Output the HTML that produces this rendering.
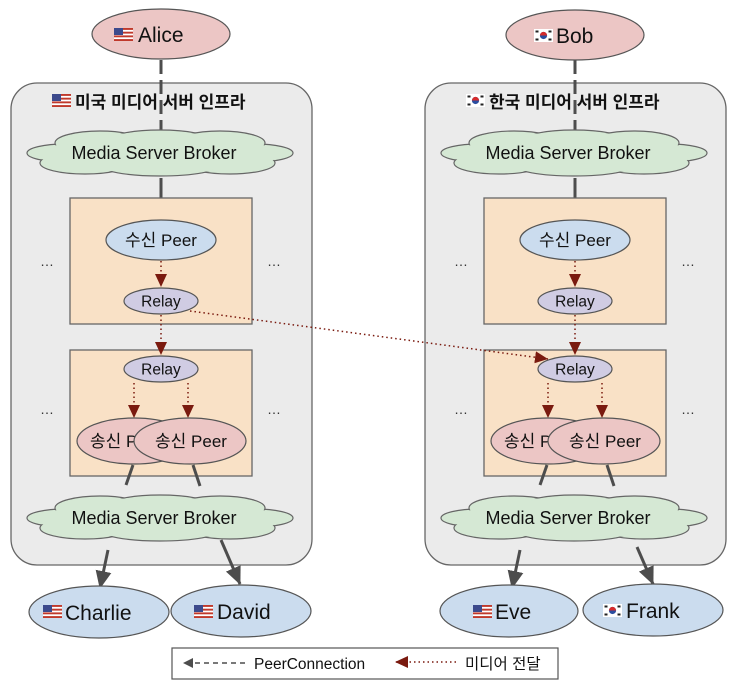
<!DOCTYPE html>
<html><head><meta charset="utf-8"><style>
html,body{margin:0;padding:0;background:#fff;}
svg{display:block;font-family:"Liberation Sans","Noto Sans CJK KR",sans-serif;}
</style></head><body>
<svg width="735" height="683" viewBox="0 0 735 683" xmlns="http://www.w3.org/2000/svg">
<defs>
<marker id="ga" markerWidth="10" markerHeight="10" refX="9" refY="5" orient="auto" markerUnits="userSpaceOnUse"><path d="M0,0 L10,5 L0,10 Z" fill="#4d4d4d"/></marker>
<marker id="ga2" markerWidth="18" markerHeight="16" refX="17" refY="8" orient="auto" markerUnits="userSpaceOnUse"><path d="M0,0 L18,8 L0,16 Z" fill="#4d4d4d"/></marker>
<marker id="ra" markerWidth="14" markerHeight="14" refX="13" refY="6" orient="auto" markerUnits="userSpaceOnUse"><path d="M0,0 L13,6 L0,12 Z" fill="#7a1a0f"/></marker>
<g id="us">
<rect x="0" y="0" width="19" height="13" fill="#fff"/>
<rect x="0" y="0" width="19" height="1.9" fill="#c0392b"/><rect x="0" y="3.7" width="19" height="1.9" fill="#c0392b"/><rect x="0" y="7.4" width="19" height="1.9" fill="#c0392b"/><rect x="0" y="11.1" width="19" height="1.9" fill="#c0392b"/>
<rect x="0" y="0" width="9" height="7" fill="#3c4a8c"/>
</g>
<g id="kr">
<rect x="0" y="0" width="19" height="13" fill="#fff"/>
<circle cx="9.5" cy="6.5" r="3.6" fill="#2a4ea0"/>
<path d="M5.9,6.5 A3.6,3.6 0 0 1 13.1,6.5 Z" fill="#d62b2b"/>
<rect x="1.5" y="1.5" width="3" height="2" fill="#222"/><rect x="14.5" y="1.5" width="3" height="2" fill="#222"/><rect x="1.5" y="9.5" width="3" height="2" fill="#222"/><rect x="14.5" y="9.5" width="3" height="2" fill="#222"/>
</g>
<g id="cloud">
<g fill="#d5e8d4" stroke="#666" stroke-width="1.2">
<ellipse cx="-95" cy="0" rx="38" ry="9"/>
<ellipse cx="95" cy="0" rx="38" ry="9"/>
<ellipse cx="-75" cy="10" rx="45" ry="11"/>
<ellipse cx="70" cy="10" rx="45" ry="11"/>
<ellipse cx="-60" cy="-10" rx="45" ry="12"/>
<ellipse cx="0" cy="-13" rx="50" ry="10"/>
<ellipse cx="60" cy="-10" rx="45" ry="12"/>
<ellipse cx="0" cy="12" rx="60" ry="11"/>
</g>
<g fill="#d5e8d4">
<ellipse cx="-95" cy="0" rx="37" ry="8"/>
<ellipse cx="95" cy="0" rx="37" ry="8"/>
<ellipse cx="-75" cy="10" rx="44" ry="10"/>
<ellipse cx="70" cy="10" rx="44" ry="10"/>
<ellipse cx="-60" cy="-10" rx="44" ry="11"/>
<ellipse cx="0" cy="-13" rx="49" ry="9"/>
<ellipse cx="60" cy="-10" rx="44" ry="11"/>
<ellipse cx="0" cy="12" rx="59" ry="10"/>
<ellipse cx="0" cy="0" rx="115" ry="14"/>
</g>
<text x="-6" y="6" font-size="18" text-anchor="middle" fill="#111">Media Server Broker</text>
</g>
<g id="panel">
<rect x="11" y="83" width="301" height="482" rx="26" fill="#ebebeb" stroke="#666" stroke-width="1.3"/>
<line x1="161" y1="60" x2="161" y2="135" stroke="#4d4d4d" stroke-width="3" stroke-dasharray="14,6"/>
<use href="#cloud" transform="translate(160,153)"/>
<line x1="161" y1="178" x2="161" y2="218" stroke="#4d4d4d" stroke-width="3" marker-end="url(#ga2)"/>
<rect x="70" y="198" width="182" height="126" fill="#f9e1c6" stroke="#666" stroke-width="1.3"/>
<rect x="70" y="350" width="182" height="126" fill="#f9e1c6" stroke="#666" stroke-width="1.3"/>
<ellipse cx="161" cy="240" rx="55" ry="20" fill="#cbdcee" stroke="#555" stroke-width="1.2"/>
<text x="161" y="246" font-size="17" text-anchor="middle" fill="#111">수신 Peer</text>
<line x1="161" y1="261" x2="161" y2="287" stroke="#7a1a0f" stroke-width="1.5" stroke-dasharray="1.5,3" marker-end="url(#ra)"/>
<ellipse cx="161" cy="301" rx="37" ry="13" fill="#d0cce3" stroke="#555" stroke-width="1.2"/>
<text x="161" y="306.5" font-size="15.5" text-anchor="middle" fill="#111">Relay</text>
<line x1="161" y1="315" x2="161" y2="355" stroke="#7a1a0f" stroke-width="1.5" stroke-dasharray="1.5,3" marker-end="url(#ra)"/>
<ellipse cx="161" cy="369" rx="37" ry="13" fill="#d0cce3" stroke="#555" stroke-width="1.2"/>
<text x="161" y="374.5" font-size="15.5" text-anchor="middle" fill="#111">Relay</text>
<line x1="134" y1="383" x2="134" y2="418" stroke="#7a1a0f" stroke-width="1.5" stroke-dasharray="1.5,3" marker-end="url(#ra)"/>
<line x1="188" y1="383" x2="188" y2="418" stroke="#7a1a0f" stroke-width="1.5" stroke-dasharray="1.5,3" marker-end="url(#ra)"/>
<ellipse cx="134" cy="441" rx="57" ry="23" fill="#ecc6c5" stroke="#555" stroke-width="1.2"/>
<text x="126" y="447" font-size="17" text-anchor="middle" fill="#111">송신 Peer</text>
<ellipse cx="190" cy="441" rx="56" ry="23" fill="#ecc6c5" stroke="#555" stroke-width="1.2"/>
<text x="191" y="447" font-size="17" text-anchor="middle" fill="#111">송신 Peer</text>
<line x1="133" y1="465" x2="126" y2="485" stroke="#4d4d4d" stroke-width="3"/>
<line x1="193" y1="465" x2="200" y2="486" stroke="#4d4d4d" stroke-width="3"/>
<use href="#cloud" transform="translate(160,518)"/>
<text x="47" y="266" font-size="14" text-anchor="middle" fill="#333">…</text>
<text x="274" y="266" font-size="14" text-anchor="middle" fill="#333">…</text>
<text x="47" y="414" font-size="14" text-anchor="middle" fill="#333">…</text>
<text x="274" y="414" font-size="14" text-anchor="middle" fill="#333">…</text>
</g>
</defs>

<use href="#panel"/>
<use href="#us" x="52" y="94"/>
<text x="75" y="108" font-size="17" font-weight="bold" fill="#111">미국 미디어 서버 인프라</text>
<ellipse cx="161" cy="34" rx="69" ry="25" fill="#ecc6c5" stroke="#555" stroke-width="1.2"/>
<use href="#us" x="114" y="28"/>
<text x="138" y="42" font-size="21" fill="#111">Alice</text>
<line x1="108" y1="550" x2="100" y2="588" stroke="#4d4d4d" stroke-width="3" marker-end="url(#ga2)"/>
<line x1="221" y1="540" x2="240" y2="584" stroke="#4d4d4d" stroke-width="3" marker-end="url(#ga2)"/>

<g transform="translate(414,0)"><use href="#panel"/></g>
<use href="#kr" x="466" y="94"/>
<text x="489" y="108" font-size="17" font-weight="bold" fill="#111">한국 미디어 서버 인프라</text>
<ellipse cx="575" cy="35" rx="69" ry="25" fill="#ecc6c5" stroke="#555" stroke-width="1.2"/>
<use href="#kr" x="534" y="29"/>
<text x="556" y="43" font-size="21" fill="#111">Bob</text>
<line x1="520" y1="550" x2="512" y2="588" stroke="#4d4d4d" stroke-width="3" marker-end="url(#ga2)"/>
<line x1="637" y1="547" x2="653" y2="584" stroke="#4d4d4d" stroke-width="3" marker-end="url(#ga2)"/>

<line x1="190" y1="311" x2="548" y2="359" stroke="#7a1a0f" stroke-width="1.5" stroke-dasharray="1.5,3" marker-end="url(#ra)"/>

<ellipse cx="99" cy="612" rx="70" ry="26" fill="#cbdcee" stroke="#555" stroke-width="1.2"/>
<use href="#us" x="43" y="605"/>
<text x="65" y="620" font-size="21" fill="#111">Charlie</text>
<ellipse cx="241" cy="611" rx="70" ry="26" fill="#cbdcee" stroke="#555" stroke-width="1.2"/>
<use href="#us" x="194" y="605"/>
<text x="217" y="619" font-size="21" fill="#111">David</text>
<ellipse cx="509" cy="611" rx="69" ry="26" fill="#cbdcee" stroke="#555" stroke-width="1.2"/>
<use href="#us" x="473" y="605"/>
<text x="495" y="619" font-size="21" fill="#111">Eve</text>
<ellipse cx="653" cy="610" rx="70" ry="26" fill="#cbdcee" stroke="#555" stroke-width="1.2"/>
<use href="#kr" x="603" y="604"/>
<text x="626" y="618" font-size="21" fill="#111">Frank</text>

<rect x="172" y="648" width="386" height="31" fill="#fff" stroke="#555" stroke-width="1.2"/>
<line x1="245" y1="663" x2="184" y2="663" stroke="#4d4d4d" stroke-width="1.5" stroke-dasharray="5,4" marker-end="url(#ga)"/>
<text x="254" y="669" font-size="15.5" fill="#111">PeerConnection</text>
<line x1="456" y1="662" x2="395" y2="662" stroke="#7a1a0f" stroke-width="1.5" stroke-dasharray="1.5,3" marker-end="url(#ra)"/>
<text x="465" y="669" font-size="15.5" fill="#111">미디어 전달</text>
</svg>
</body></html>
